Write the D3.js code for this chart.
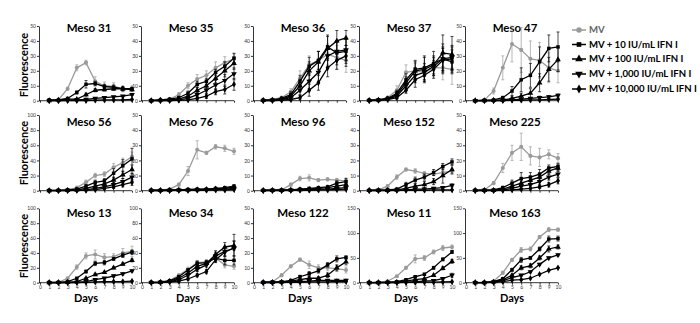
<!DOCTYPE html>
<html><head>
<meta charset="utf-8">
<title>Meso panels</title>
<script src="https://d3js.org/d3.v7.min.js"></script>
<style>
body { margin: 0; background: #fff; }
text { font-family: Lato, "Open Sans", sans-serif; }
</style>
</head>
<body>
<div id="chart"></div>
<script>

// panel names, y-axis max and step
var panels = ["Meso 31","Meso 35","Meso 36","Meso 37","Meso 47",
              "Meso 56","Meso 76","Meso 96","Meso 152","Meso 225",
              "Meso 13","Meso 34","Meso 122","Meso 11","Meso 163"];
var yMax  = [50,50,50,50,50, 100,50,50,50,50, 100,100,50,150,150];
var yStep = [10,10,10,10,10, 20,10,10,10,10, 20,20,10,50,50];
var days = [1,2,3,4,5,6,7,8,9,10];
var xTicks = [0,1,2,3,4,5,6,7,8,9,10];
var seriesNames = ["MV","MV + 10 IU/mL IFN I","MV + 100 IU/mL IFN I","MV + 1,000 IU/mL IFN I","MV + 10,000 IU/mL IFN I"];

// one row per panel, values for days 1..10
var mv = [
  [0.5,0.5,8,22,25.5,13,10,9.5,8,8],
  [0.5,0.5,1,4,10,14.5,17,22,25.5,28],
  [0.5,0.8,2,6,15,24,27,31,29,27],
  [0.5,0.5,2,7,19,20,19,22,22,21],
  [0,0.5,6.5,22,38,34,28,27,22,20],
  [0.5,0.5,1,4,11,20,22,31,37,45],
  [0.5,0.5,1,4,13,27,25,29,28,26],
  [0.3,0.5,0.5,4,8,8.5,7,7.5,7,6.5],
  [0.3,0.5,3,9,14,13,11.5,11,12,13],
  [0.3,0.5,5,15,25,29,23,22,24,21.5],
  [0.5,0.5,6,21,36,38,34,35,40,42],
  [0.5,1,3,10,18,27,28,33,24,22],
  [0.5,0.5,5,11,15.5,12,10,10,9.5,8.5],
  [0.5,1,3,13,30,48,50,62,70,72],
  [0.5,0.5,3,20,46,66,68,92,107,107]
];
var ifn10 = [
  [0.5,0.5,1.5,5.5,11,11.5,9.5,9,8,8],
  [0,0.5,1,2,5,11,13,19,23,28.5],
  [0.3,0.5,1.5,4,13,23,27,36,32,33],
  [0.3,0.5,1.5,5,14,21,22,25,28,26],
  [0,0.3,0.5,2,6.5,14,17,26,35,36],
  [0.3,0.5,1,2,6,11,13,23,33,42],
  [0.3,0.3,0.5,0.5,0.8,1,1,1.5,2,3],
  [0.3,0.3,0.5,0.5,1,1.5,2,2.5,5,6],
  [0.3,0.3,0.5,1,4,7,9,12,16,19],
  [0.3,0.3,0.5,2,5,8,9,11,15,16],
  [0.3,0.5,1.5,6,15,26,27,32,37,41],
  [0.5,0.8,2.5,8,17,26,27,33,30,30],
  [0.3,0.5,0.5,1.5,4,6,8,12,16,17],
  [0.3,0.5,1,2,6,12,17,30,47,62],
  [0.3,0.5,2,8,26,46,50,68,88,89]
];
var ifn100 = [
  [0,0.5,1,1,4,7,7.5,8,8,7.5],
  [0,0.5,0.5,1,3,7,10,15,20,25],
  [0.2,0.5,1,3,10,20,26,35,40,42],
  [0.2,0.5,1.2,4,12,20,21,24,32,31],
  [0,0,0.3,0.5,1.5,3,5,12,21,27.5],
  [0,0.3,0.5,1,3,6,9,14,21,28],
  [0.2,0.3,0.3,0.5,0.5,0.8,1,1.2,1.5,2.5],
  [0.2,0.3,0.3,0.5,0.8,1,1.5,2,3,4],
  [0.2,0.3,0.3,0.5,1.5,3,4,6,10,14],
  [0.2,0.3,0.3,1,3,5,7,9,13,15],
  [0.2,0.3,0.5,1.5,6,11,14,20,25,30],
  [0.3,0.5,2,6,13,22,26,38,48,50],
  [0.2,0.3,0.5,1,2,3,3,5,10,14],
  [0.2,0.3,0.5,1,3,6,8,15,29,43],
  [0.2,0.3,1.5,6,15,30,34,50,68,72]
];
var ifn1000 = [
  [0,0,0.3,0.5,0.8,1.5,2,2.5,3,4],
  [0,0,0.3,0.5,1.5,4,7,10.5,13.5,18],
  [0,0.3,0.8,2,7,13,19,30,33,34],
  [0,0.3,1,3,10,17,19,23,28,29],
  [0,0,0,0.3,0.5,1,1.5,2,2.5,3.5],
  [0,0,0.3,0.5,1,3,5,8,12,18],
  [0,0,0.2,0.3,0.3,0.5,0.5,0.8,1,1.5],
  [0,0.2,0.2,0.3,0.5,0.5,0.8,1,1.5,2],
  [0,0.2,0.2,0.3,0.5,1,1,1.5,2,3.5],
  [0,0.2,0.2,0.5,1.5,3,4,6,9,11],
  [0,0.2,0.3,0.5,1.5,4,6,9,12,16],
  [0.2,0.5,1.5,4,10,18,24,36,42,46],
  [0,0.2,0.3,0.5,0.8,1,1.5,1.5,1.5,1.5],
  [0,0.2,0.3,0.5,1,2,3,4,8,15],
  [0,0.2,1,4,10,15,22,37,50,56]
];
var ifn10000 = [
  [0,0,0,0,0,0.3,0.5,0.5,0.5,0.8],
  [0,0,0,0.3,0.5,1.5,3,6,7.5,11],
  [0,0,0.3,0.8,2,7,12,22,27,30],
  [0,0.3,0.8,2,7,14,17,21,27,28],
  [0,0,0,0,0.3,0.3,0.5,0.5,0.8,1],
  [0,0,0,0.3,0.5,1.5,3,5,8,11],
  [0,0,0,0.2,0.2,0.3,0.3,0.5,0.5,0.8],
  [0,0,0,0.2,0.3,0.3,0.5,0.5,0.8,1],
  [0,0,0,0.2,0.2,0.3,0.3,0.5,0.5,0.5],
  [0,0,0,0.2,0.5,1,1.5,2.5,4,6.5],
  [0,0,0.2,0.3,0.5,1,1.5,1.5,1.5,2],
  [0,0.3,1,2,5,10,15,31,41,47],
  [0,0,0.2,0.2,0.3,0.5,0.5,0.5,0.8,0.8],
  [0,0,0.2,0.3,0.5,0.5,1,1,1.5,2],
  [0,0,0.5,2,5,6,9,17,25,30]
];

// error bars (same layout)
var mvErr = [
  [0.3,0.3,1,2,1.5,3,2.5,2.5,2,2],
  [0.3,0.3,0.5,1.5,2,3,3,4,4,4],
  [0.5,0.5,1,2,5,6,6,7,8,8],
  [0.5,0.5,1,3,5,5,5,6,8,10],
  [0.3,0.5,2,8,12,15,12,12,10,8],
  [0.5,0.5,1,2,3,3,3,5,6,6],
  [0.3,0.3,0.5,1,3,6,1,1.5,2,2],
  [0.2,0.3,0.3,1,1.5,2,1,1,1,2],
  [0.2,0.3,0.8,1.5,1,1.5,1,1,1,1.5],
  [0.3,0.3,1,3,5,9,6,6,3,3],
  [0.5,0.5,1,3,4,6,5,4,6,7],
  [0.5,0.5,1,2,3,3,3,5,4,4],
  [0.3,0.3,1,1,1,2.5,2,2,2,2],
  [0.5,0.5,1,2,3,8,5,4,5,4],
  [0.5,0.5,1,3,3,5,4,3,4,3]
];
var ifn10Err = [
  [0.2,0.2,0.5,1,2.5,1.5,1.5,1.5,1.5,1],
  [0.2,0.2,0.5,1,1.5,2,2,2,3,3],
  [0.3,0.5,1,2,4,6,6,8,8,8],
  [0.3,0.5,1,2,4,6,8,8,10,8],
  [0.2,0.3,0.5,1,3,8,8,10,9,10],
  [0.3,0.5,0.8,1.5,2,3,3,6,8,14],
  [0.2,0.2,0.2,0.3,0.3,0.3,0.5,0.5,0.5,0.8],
  [0.2,0.2,0.3,0.3,0.5,0.5,0.8,1,1.5,2],
  [0.2,0.2,0.3,0.5,1.5,2,2,2,2,2],
  [0.2,0.2,0.3,1,2,4,3,3,2,2],
  [0.3,0.3,0.5,1,2,3,3,2,3,3],
  [0.3,0.5,1,2,2,3,3,5,6,6],
  [0.2,0.3,0.3,0.5,1,1.5,1.5,1.5,2,1],
  [0.3,0.3,0.5,1,1,2,2,3,3,3],
  [0.3,0.3,0.5,1,3,5,3,4,6,5]
];
var ifn100Err = [
  [0.2,0.2,0.3,0.3,1,1,1,1,1,1],
  [0.2,0.2,0.3,0.5,1,2,2,3,4,4],
  [0.3,0.5,1,2,4,6,7,8,7,5],
  [0.3,0.5,1,2,4,6,8,6,12,12],
  [0,0,0.3,0.3,1,2,3,6,8,8],
  [0.3,0.3,0.5,1,1.5,2,3,4,5,6],
  [0.2,0.2,0.2,0.2,0.3,0.3,0.3,0.5,0.5,0.5],
  [0.2,0.2,0.2,0.3,0.3,0.5,0.5,0.5,0.8,1],
  [0.2,0.2,0.3,0.3,1,1.5,2,2,5,3],
  [0.2,0.2,0.2,0.5,1.5,2,2,2,2,2],
  [0.2,0.2,0.3,0.5,1,1.5,1,1.5,1.5,2],
  [0.3,0.5,1,2,2,3,3,5,6,6],
  [0.2,0.2,0.3,0.3,0.5,1,1,1.5,2,2],
  [0.2,0.2,0.3,0.5,0.5,1,1,2,3,4],
  [0.2,0.3,0.5,1,2,4,4,4,6,4]
];
var ifn1000Err = [
  [0,0,0.2,0.2,0.3,0.5,0.5,0.5,0.5,0.5],
  [0,0,0.2,0.3,1,1.5,2,3,4,4],
  [0.2,0.3,0.5,1.5,3,5,6,7,6,7],
  [0.2,0.3,0.8,1.5,3,5,6,6,8,8],
  [0,0,0,0.2,0.3,0.5,0.5,1,1,1],
  [0,0,0.3,0.5,1,1.5,2,3,4,5],
  [0,0,0.2,0.2,0.2,0.3,0.3,0.3,0.5,0.5],
  [0,0.2,0.2,0.2,0.3,0.3,0.3,0.5,0.5,0.5],
  [0,0.2,0.2,0.2,0.3,0.5,0.5,0.5,0.8,1],
  [0,0,0,0.3,1,1.5,2,2,2,2],
  [0,0.2,0.2,0.3,0.5,1,1,1.5,1.5,1.5],
  [0.2,0.3,0.5,1.5,2,3,3,5,6,10],
  [0,0.2,0.2,0.3,0.3,0.3,0.5,0.5,0.5,0.5],
  [0,0.2,0.2,0.3,0.3,0.5,0.5,1,2,4],
  [0,0.2,0.3,0.5,1,2,2,2,2,2]
];
var ifn10000Err = [
  [0,0,0,0,0,0.2,0.2,0.2,0.2,0.2],
  [0,0,0,0.2,0.3,1,1.5,2,3,4],
  [0,0.2,0.3,1,1.5,4,5,6,6,7],
  [0.2,0.3,0.5,1,2,5,5,6,8,8],
  [0,0,0,0,0.2,0.2,0.2,0.3,0.3,0.3],
  [0,0,0,0.3,0.5,1,1.5,2,3,4],
  [0,0,0,0.2,0.2,0.2,0.2,0.3,0.3,0.3],
  [0,0,0,0.2,0.2,0.2,0.3,0.3,0.3,0.5],
  [0,0,0,0.2,0.2,0.2,0.2,0.3,0.3,0.3],
  [0,0,0,0,0.3,0.5,1,1,1.5,2],
  [0,0,0.2,0.2,0.3,0.5,0.5,0.5,0.5,0.5],
  [0,0.2,0.5,1,1.5,2,3,4,6,18],
  [0,0,0.2,0.2,0.2,0.3,0.3,0.3,0.3,0.3],
  [0,0,0.2,0.2,0.3,0.3,0.5,0.5,0.5,0.8],
  [0,0,0.2,0.3,0.5,1,1,1,1,1]
];

var seriesVals = [mv, ifn10, ifn100, ifn1000, ifn10000];
var seriesErrs = [mvErr, ifn10Err, ifn100Err, ifn1000Err, ifn10000Err];
var colors = ["#9a9a9a","#000","#000","#000","#000"];
var symbols = [d3.symbolCircle, d3.symbolSquare, d3.symbolTriangle, d3.symbolTriangle, d3.symbolDiamond];
var symRot = [0,0,0,180,0];
var symSize = [13,12,14,14,13];

// layout of the grid
var width = 700, height = 323;
var colX = [39, 141, 253, 359, 465];   // y-axis positions
var rowBase = [100.7, 190.7, 282.7];    // y=0 line
var rowTop = [26, 115, 208.3];          // y=max line
var panelW = 92;

var svg = d3.select("#chart").append("svg")
    .attr("width", width)
    .attr("height", height);

panels.forEach(function(name, i) {
  var col = i % 5, row = Math.floor(i / 5);
  var x = d3.scaleLinear().domain([0, 10]).range([colX[col] + 1, colX[col] + 1 + panelW]);
  var y = d3.scaleLinear().domain([0, yMax[i]]).range([rowBase[row], rowTop[row]]);
  var g = svg.append("g");

  // y axis
  var yAxis = d3.axisLeft(y)
      .tickValues(d3.range(0, yMax[i] + 1, yStep[i]))
      .tickSize(2).tickSizeOuter(0).tickPadding(1);
  var ya = g.append("g")
      .attr("transform", "translate(" + colX[col] + ",0)")
      .call(yAxis);
  ya.selectAll("text").style("font-size", "5px").style("fill", "#333");

  // x axis
  var xAxis = d3.axisBottom(x)
      .tickValues(xTicks)
      .tickSize(2).tickSizeOuter(0).tickPadding(1);
  if (row < 2) xAxis.tickFormat("");
  var xa = g.append("g")
      .attr("transform", "translate(0," + rowBase[row] + ")")
      .call(xAxis);
  xa.selectAll("text").style("font-size", "5px").style("fill", "#333");
  xa.select(".domain").attr("d", "M" + colX[col] + ",0H" + x(10));
  g.selectAll(".domain, .tick line").attr("stroke", "#000").attr("stroke-width", 0.8);

  // title
  g.append("text")
    .attr("x", x(5) + 3)
    .attr("y", rowTop[row] + (row == 0 ? 6 : row == 1 ? 10.5 : 9))
    .attr("text-anchor", "middle")
    .style("font-size", "11.5px")
    .style("font-weight", "bold")
    .text(name);

  // days label on bottom row
  if (row == 2) {
    g.append("text")
      .attr("x", x(5))
      .attr("y", 302)
      .attr("text-anchor", "middle")
      .style("font-size", "11px")
      .style("font-weight", "bold")
      .text("Days");
  }

  // series
  seriesVals.forEach(function(arr, s) {
    var pts = days.map(function(d, k) { return {day: d, v: arr[i][k], e: seriesErrs[s][i][k]}; });

    // error bars
    var eb = g.append("g").attr("stroke", colors[s]).attr("stroke-width", 0.7);
    pts.forEach(function(p) {
      if (p.e <= 0) return;
      var x0 = x(p.day), y1 = y(p.v + p.e), y2 = y(Math.max(0, p.v - p.e));
      eb.append("line").attr("x1", x0).attr("x2", x0).attr("y1", y1).attr("y2", y2);
      eb.append("line").attr("x1", x0 - 1.5).attr("x2", x0 + 1.5).attr("y1", y1).attr("y2", y1);
      eb.append("line").attr("x1", x0 - 1.5).attr("x2", x0 + 1.5).attr("y1", y2).attr("y2", y2);
    });

    g.append("path")
      .datum(pts)
      .attr("fill", "none")
      .attr("stroke", colors[s])
      .attr("stroke-width", 1.3)
      .attr("d", d3.line()
        .x(function(d) { return x(d.day); })
        .y(function(d) { return y(d.v); }));

    g.selectAll(null)
      .data(pts)
      .enter().append("path")
      .attr("d", d3.symbol().type(symbols[s]).size(symSize[s]))
      .attr("transform", function(d) { return "translate(" + x(d.day) + "," + y(d.v) + ") rotate(" + symRot[s] + ")"; })
      .attr("fill", colors[s]);
  });
});

// Fluorescence labels
[65, 153, 246].forEach(function(cy) {
  svg.append("text")
    .attr("transform", "translate(28," + cy + ") rotate(-90)")
    .attr("text-anchor", "middle")
    .style("font-size", "11px")
    .style("font-weight", "bold")
    .text("Fluorescence");
});

// legend
var legY = [30, 44.5, 59, 74, 89];
var leg = svg.append("g");
seriesNames.forEach(function(n, s) {
  leg.append("line")
    .attr("x1", 572).attr("x2", 586)
    .attr("y1", legY[s]).attr("y2", legY[s])
    .attr("stroke", colors[s]).attr("stroke-width", 1.5);
  leg.append("path")
    .attr("d", d3.symbol().type(symbols[s]).size(symSize[s] * 1.8))
    .attr("transform", "translate(579," + legY[s] + ") rotate(" + symRot[s] + ")")
    .attr("fill", colors[s]);
  leg.append("text")
    .attr("x", 589)
    .attr("y", legY[s] + 3.2)
    .style("font-size", "9.6px")
    .style("font-weight", "bold")
    .style("fill", s == 0 ? "#666" : "#000")
    .text(n);
});

</script>
</body></html>
